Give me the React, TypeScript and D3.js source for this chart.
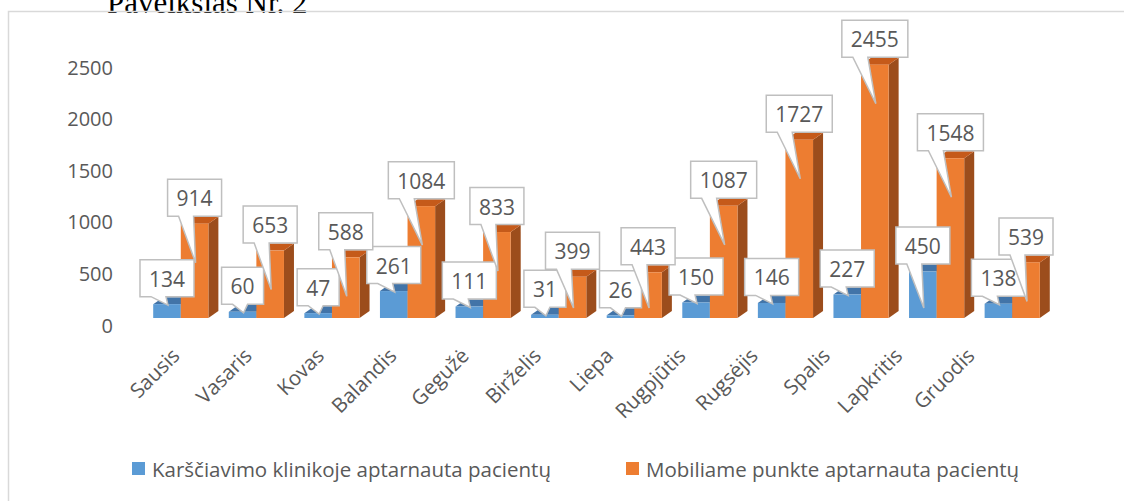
import React from 'react';
import * as d3 from 'd3';

const months = ['Sausis', 'Vasaris', 'Kovas', 'Balandis', 'Gegužė', 'Birželis', 'Liepa', 'Rugpjūtis', 'Rugsėjis', 'Spalis', 'Lapkritis', 'Gruodis'];
const clinic = [134, 60, 47, 261, 111, 31, 26, 150, 146, 227, 450, 138];
const mobile = [914, 653, 588, 1084, 833, 399, 443, 1087, 1727, 2455, 1548, 539];
const yTicks = [0, 500, 1000, 1500, 2000, 2500];
const seriesNames = ['Karščiavimo klinikoje aptarnauta pacientų', 'Mobiliame punkte aptarnauta pacientų'];
const title = 'Paveikslas Nr. 2';

const W = 1124;
const H = 501;
const DX = 10;
const DY = 7;
const FONT = '"Open Sans", sans-serif';
const TXT = '#595959';

const colors = [
  { front: '#5b9bd5', top: '#4274a8', side: '#3f6f9e' },
  { front: '#ed7d31', top: '#c55a1a', side: '#9c4d1c' },
];

export default function App() {
  const y = d3.scaleLinear().domain([0, 2500]).range([318, 60]);
  const x = d3.scaleBand<string>().domain(months).range([143, 1050]).paddingInner(0.27).paddingOuter(0.135);
  const xs = d3.scaleBand<string>().domain(['0', '1']).range([0, x.bandwidth()]);
  // labels sit on a slightly tighter projected axis than the bars
  const xl = d3.scalePoint<string>().domain(months).range([177, 972]);
  const series = [clinic, mobile];
  const base = y(0);

  const bars: any[] = [];
  const labels: any[] = [];
  series.forEach((vals, s) => {
    vals.forEach((v, i) => {
      const x0 = (x(months[i]) as number) + (xs(String(s)) as number);
      const w = xs.bandwidth();
      const top = y(v);
      const h = base - top;
      const c = colors[s];
      bars.push(
        <g key={`b${s}-${i}`}>
          <polygon points={`${x0 + w},${top} ${x0 + w + DX},${top - DY} ${x0 + w + DX},${base - DY} ${x0 + w},${base}`} fill={c.side} />
          <polygon points={`${x0},${top} ${x0 + w},${top} ${x0 + w + DX},${top - DY} ${x0 + DX},${top - DY}`} fill={c.top} />
          <rect x={x0} y={top} width={w} height={h} fill={c.front} />
        </g>
      );
      const cx = x0 + w / 2;
      const bw = String(v).length * 12 + 18;
      const left = cx - bw / 2;
      const bb = top - 7.5;
      const bt = bb - 37;
      const tipY = h > 35 ? top + Math.min(39, h - 10) : top + 1;
      const d = `M${left},${bt}H${left + bw}V${bb}H${left + 26}L${cx + 1},${tipY}L${left + 11},${bb}H${left}Z`;
      labels.push(
        <g key={`l${s}-${i}`}>
          <path d={d} fill="#fff" stroke="#bfbfbf" strokeWidth={1.5} />
          <text x={left + bw / 2} y={bb - 18} textAnchor="middle" dominantBaseline="central" fontSize={21} fill={TXT}>
            {v}
          </text>
        </g>
      );
    });
  });

  return (
    <svg width={W} height={H} style={{ position: 'absolute', left: 0, top: 0, background: '#fff' }} fontFamily={FONT}>
      <text x={107} y={13} fontFamily='"Liberation Serif", "Times New Roman", serif' fontSize={31} fill="#000">
        {title}
      </text>
      <rect x={8.5} y={11.5} width={1130} height={520} fill="none" stroke="#d9d9d9" strokeWidth={1.5} />

      {yTicks.map((t) => (
        <text key={t} x={113} y={y(t) + 7} textAnchor="end" dominantBaseline="central" fontSize={20} fill={TXT}>
          {t}
        </text>
      ))}

      {bars}
      {labels}

      {months.map((m) => {
        const ax = (xl(m) as number) + 4;
        const ay = 357;
        return (
          <text key={m} x={ax} y={ay} transform={`rotate(-45,${ax},${ay})`} textAnchor="end" fontSize={20.5} fill={TXT}>
            {m}
          </text>
        );
      })}

      {seriesNames.map((n, i) => {
        const lx = i === 0 ? 132 : 626;
        return (
          <g key={n}>
            <rect x={lx} y={462} width={13} height={13} fill={colors[i].front} />
            <text x={lx + 20} y={469} dominantBaseline="central" fontSize={20.5} fill={TXT}>
              {n}
            </text>
          </g>
        );
      })}
    </svg>
  );
}
